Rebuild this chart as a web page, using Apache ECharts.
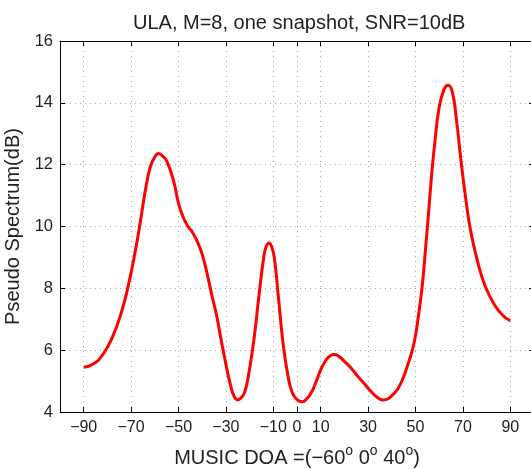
<!DOCTYPE html>
<html>
<head>
<meta charset="utf-8">
<script src="https://cdn.jsdelivr.net/npm/echarts@6/dist/echarts.min.js"></script>
<style>html,body{margin:0;padding:0;background:#fff}#c{width:531px;height:469px}</style>
</head>
<body>
<div id="c"></div>
<script>
const titleText = 'ULA, M=8, one snapshot, SNR=10dB';
const xTicks = [-90, -70, -50, -30, -10, 0, 10, 30, 50, 70, 90];
const yTicks = [4, 6, 8, 10, 12, 14, 16];
const doa = [-90,-86,-82,-78,-74,-71,-68,-66,-64,-62,-60,-58.4,-57,-55,-52,-50,-48,-46,-44,-42,-40,-38,-36,-34,-32,-30,-28,-26.5,-25,-23.5,-22,-20,-18,-16,-14,-13,-11.8,-10.5,-9.5,-8,-6,-4,-2,0,2.3,4,6,8,10,12,14,16,18,20,22.5,26,29.5,32,34.5,36.5,38.5,40,42.3,44.5,46.5,49.3,51.4,52.8,54.2,55.6,57,58.4,59.8,61.9,63.8,65.5,67.3,69,71.1,73.2,76,79.5,83.8,87.3,90];
const spectrum = [5.45,5.55,5.85,6.4,7.25,8.15,9.3,10.2,11.16,11.9,12.25,12.36,12.3,12.12,11.45,10.75,10.3,10.0,9.8,9.5,9.1,8.5,7.8,7.15,6.33,5.55,4.85,4.5,4.39,4.47,4.65,5.4,6.45,7.8,9.02,9.35,9.47,9.3,8.95,7.84,6.3,5.25,4.62,4.4,4.33,4.42,4.62,4.97,5.36,5.65,5.82,5.86,5.78,5.64,5.45,5.12,4.82,4.6,4.44,4.39,4.43,4.53,4.72,5.05,5.47,6.2,7.2,8.05,9.24,10.53,11.83,12.9,13.76,14.41,14.57,14.36,13.44,12.26,10.96,9.89,8.92,8.05,7.41,7.09,6.96];

const font = 'Liberation Sans, Arial, sans-serif';
const fmt = v => (v < 0 ? '\u2212' + Math.abs(v) : String(v));
const gridLine = {show: true, lineStyle: {color: '#aaa', type: [1, 4], width: 1}};
const chart = echarts.init(document.getElementById('c'));
chart.setOption({
  animation: false,
  title: {text: titleText, left: 128, top: 8, textStyle: {fontFamily: font, fontSize: 20, fontWeight: 'normal', color: '#222'}},
  grid: {left: 60, right: -3, top: 41, bottom: 57, containLabel: false, outerBoundsMode: 'none'},
  xAxis: [{
    type: 'value', min: -100, max: 100, interval: 10,
    name: '{m|MUSIC DOA =(\u221260}{s|o}{m| 0}{s|o}{m| 40}{s|o}{m|)}', nameLocation: 'middle', nameGap: 27,
    nameTextStyle: {fontFamily: font, fontSize: 20, color: '#222', rich: {
      m: {fontSize: 20, lineHeight: 28, verticalAlign: 'bottom', fontFamily: font, color: '#222'},
      s: {fontSize: 14, lineHeight: 14, verticalAlign: 'top', padding: [3, 0, 0, 0], fontFamily: font, color: '#222'}
    }},
    axisLine: {show: true, onZero: false, lineStyle: {color: '#000', width: 1}},
    axisTick: {show: true, inside: true, length: 5, customValues: xTicks, lineStyle: {color: '#000'}},
    axisLabel: {customValues: xTicks, formatter: fmt, fontFamily: font, fontSize: 16, color: '#222', margin: 8},
    splitLine: gridLine
  }, {
    type: 'value', min: -100, max: 100, interval: 10, position: 'top',
    axisLine: {show: true, onZero: false, lineStyle: {color: '#000', width: 1}},
    axisTick: {show: true, inside: true, length: 5, customValues: xTicks, lineStyle: {color: '#000'}},
    axisLabel: {show: false}, splitLine: {show: false}
  }],
  yAxis: [{
    type: 'value', min: 4, max: 16, interval: 2,
    name: 'Pseudo Spectrum(dB)', nameLocation: 'middle', nameGap: 30,
    nameTextStyle: {fontFamily: font, fontSize: 20, color: '#222'},
    axisLine: {show: true, onZero: false, lineStyle: {color: '#000', width: 1}},
    axisTick: {show: true, inside: true, length: 5, lineStyle: {color: '#000'}},
    axisLabel: {customValues: yTicks, fontFamily: font, fontSize: 16.5, color: '#222', margin: 7},
    splitLine: gridLine
  }, {
    type: 'value', min: 4, max: 16, interval: 2, position: 'right',
    axisLine: {show: true, onZero: false, lineStyle: {color: '#000'}},
    axisTick: {show: true, inside: true, length: 5}, axisLabel: {show: false}, splitLine: {show: false}
  }],
  series: [{
    type: 'line', data: doa.map((d, i) => [d, spectrum[i]]), smooth: 0.5, showSymbol: false,
    lineStyle: {color: '#ff0000', width: 3}, itemStyle: {color: '#ff0000'}
  }]
});
</script>
</body>
</html>
